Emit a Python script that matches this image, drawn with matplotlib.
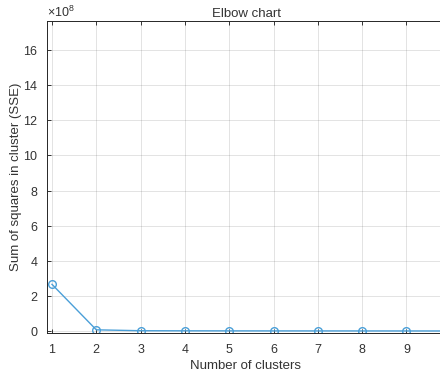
import numpy as np
import matplotlib
matplotlib.use("Agg")
import matplotlib.pyplot as plt
from matplotlib.ticker import ScalarFormatter

# elbow data: SSE per cluster count
clusters = [1, 2, 3, 4, 5, 6, 7, 8, 9, 10]
sse = [2.66e8, 0.07e8, 0.02e8, 0.015e8, 0.012e8, 0.01e8, 0.009e8, 0.008e8, 0.007e8, 0.006e8]
yticks = [0, 2e8, 4e8, 6e8, 8e8, 10e8, 12e8, 14e8, 16e8]

text_col = '#333333'
plt.rcParams['font.family'] = ['Liberation Sans', 'DejaVu Sans']
plt.rcParams['mathtext.fontset'] = 'custom'
plt.rcParams['mathtext.rm'] = 'Liberation Sans'

fig = plt.figure(figsize=(4.4, 3.79), dpi=100)
# axes runs a little past the right edge, like the cropped original
ax = fig.add_axes([47/440, 46/379, 398/440, 312/379])

ax.plot(clusters, sse, '-o', color='#4a9fd8', lw=1.0, ms=5.5,
        mfc='none', mec='#4a9fd8', mew=1.0)

ax.set_xlim(0.887, 9.87)
ax.set_ylim(-0.11e8, 17.65e8)
ax.set_xticks(clusters[:9])
ax.set_yticks(yticks)

# fix the exponent at 8, as in the original
fmt = ScalarFormatter(useMathText=True)
fmt.set_powerlimits((8, 8))
ax.yaxis.set_major_formatter(fmt)
ax.yaxis.get_offset_text().set_fontsize(9)
ax.yaxis.get_offset_text().set_color(text_col)

ax.grid(True, color='#262626', alpha=0.13, lw=0.7)
ax.tick_params(direction='in', length=3, width=0.7, labelsize=9,
               colors=text_col, top=True, right=False)
ax.tick_params(axis='x', pad=8)
ax.tick_params(axis='y', pad=6)
for s in ax.spines.values():
    s.set_color('#262626')
    s.set_linewidth(0.7)

ax.set_title('Elbow chart', fontsize=9.5, color=text_col, pad=3)
ax.set_xlabel('Number of clusters', fontsize=9.5, color=text_col, labelpad=3)
ax.set_ylabel('Sum of squares in cluster (SSE)', fontsize=9.5, color=text_col, labelpad=1)

fig.savefig('out.png', dpi=100)
